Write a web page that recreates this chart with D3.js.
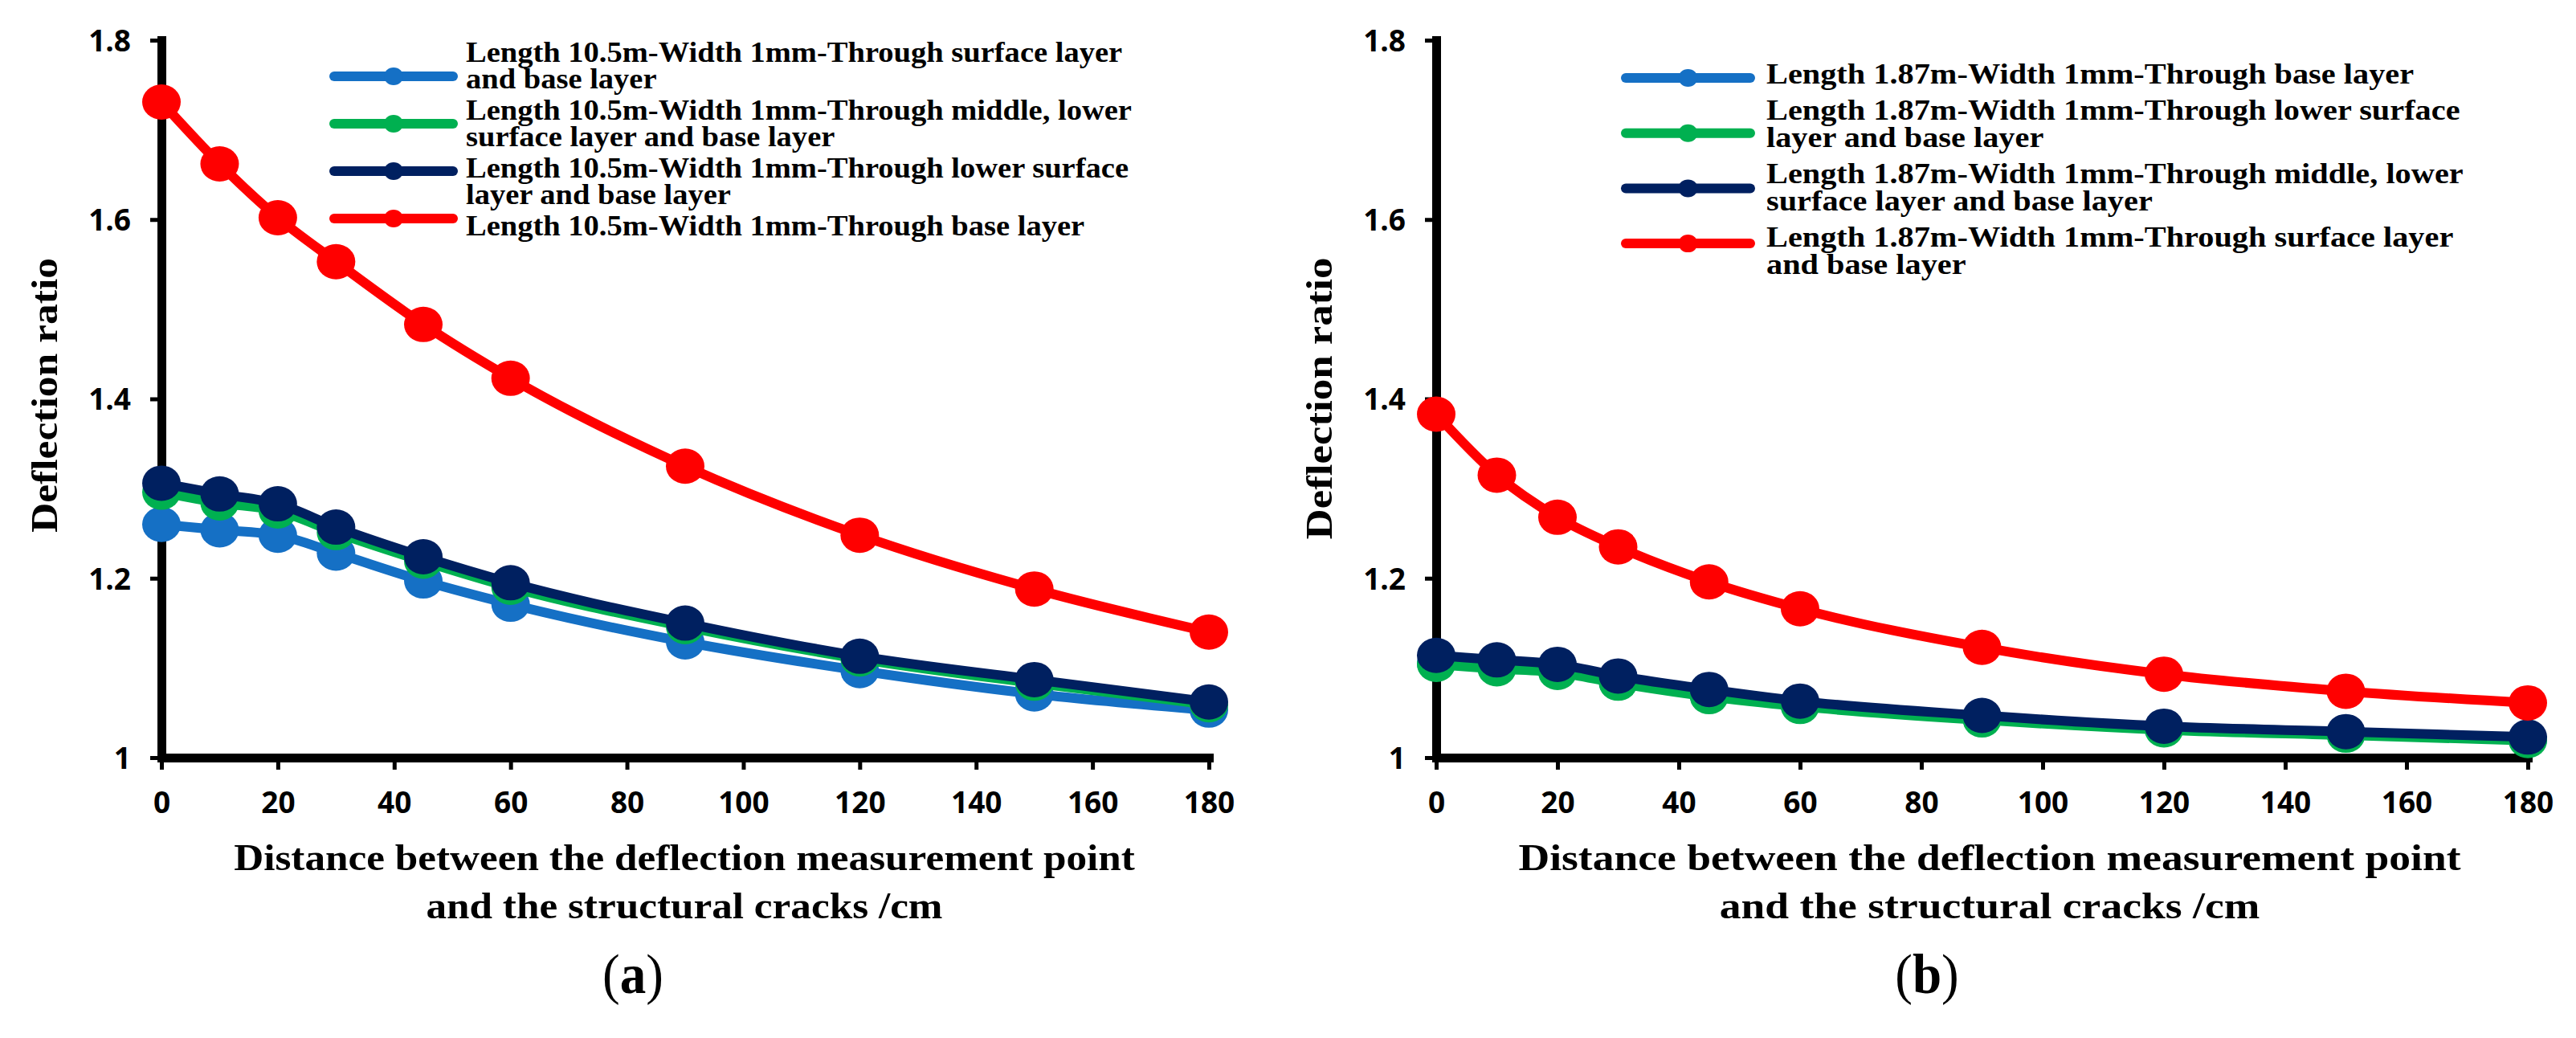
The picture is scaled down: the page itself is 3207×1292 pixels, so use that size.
<!DOCTYPE html>
<html>
<head>
<meta charset="utf-8">
<script src="https://cdn.jsdelivr.net/npm/d3@7"></script>
<style>
  body { margin: 0; background: #fff; }
  svg { display: block; }
</style>
</head>
<body>
<svg id="chart" width="3207" height="1292"></svg>
<script>
// distances from the crack (cm) and axis ticks
var xValues = [0, 10, 20, 30, 45, 60, 90, 120, 150, 180];
var xTicks = [0, 20, 40, 60, 80, 100, 120, 140, 160, 180];
var yTicks = [1, 1.2, 1.4, 1.6, 1.8];
var seriesColors = ['#1570C5', '#00B050', '#002060', '#FF0000'];

// (a) length 10.5 m
var aSurfaceBase = [1.260, 1.254, 1.248, 1.228, 1.197, 1.171, 1.129, 1.097, 1.071, 1.053];
var aMiddleLower = [1.296, 1.284, 1.275, 1.251, 1.219, 1.190, 1.146, 1.110, 1.083, 1.059];
var aLowerBase = [1.306, 1.294, 1.283, 1.257, 1.224, 1.195, 1.150, 1.113, 1.087, 1.062];
var aBaseOnly = [1.731, 1.662, 1.602, 1.553, 1.483, 1.423, 1.325, 1.248, 1.188, 1.140];
var aLegend = [
  ['Length 10.5m-Width 1mm-Through surface layer', 'and base layer'],
  ['Length 10.5m-Width 1mm-Through middle, lower', 'surface layer and base layer'],
  ['Length 10.5m-Width 1mm-Through lower surface', 'layer and base layer'],
  ['Length 10.5m-Width 1mm-Through base layer']
];

// (b) length 1.87 m
var bBaseOnly = [1.105, 1.100, 1.096, 1.084, 1.069, 1.058, 1.043, 1.032, 1.026, 1.020];
var bLowerBase = [1.104, 1.099, 1.095, 1.083, 1.068, 1.057, 1.042, 1.031, 1.025, 1.019];
var bMiddleLower = [1.114, 1.109, 1.104, 1.091, 1.076, 1.063, 1.047, 1.035, 1.029, 1.023];
var bSurfaceBase = [1.383, 1.315, 1.268, 1.235, 1.196, 1.166, 1.123, 1.093, 1.074, 1.061];
var bLegend = [
  ['Length 1.87m-Width 1mm-Through base layer'],
  ['Length 1.87m-Width 1mm-Through lower surface', 'layer and base layer'],
  ['Length 1.87m-Width 1mm-Through middle, lower', 'surface layer and base layer'],
  ['Length 1.87m-Width 1mm-Through surface layer', 'and base layer']
];

var yTitle = 'Deflection ratio';
var xTitle = ['Distance between the deflection measurement point', 'and the structural cracks /cm'];

var serif = '"Liberation Serif", "Times New Roman", serif',
    sans = '"Open Sans", "Liberation Sans", sans-serif';

// layout of the two panels
var panels = [
  {label: 'a', values: [aSurfaceBase, aMiddleLower, aLowerBase, aBaseOnly], legend: aLegend,
   x0: 201, x1: 1505, k: 1.07, titleK: 1.09, titleCX: 852,
   keyX: [416, 564], keyY0: 95, keyStep: 59, textX: 580, textY0: 65, lh: 33, gap: 39,
   yTitleX: 55, yTitleY: 492, yTitleLen: 342, labelX: 788},
  {label: 'b', values: [bBaseOnly, bLowerBase, bMiddleLower, bSurfaceBase], legend: bLegend,
   x0: 1788, x1: 3147, k: 1.12, titleK: 1.14, titleCX: 2477,
   keyX: [2024, 2179], keyY0: 97, keyStep: 68.7, textX: 2199, textY0: 92, lh: 34, gap: 45,
   yTitleX: 1642, yTitleY: 496, yTitleLen: 351, labelX: 2399}
];

var svg = d3.select('#chart');
svg.append('rect').attr('width', 3207).attr('height', 1292).attr('fill', '#fff');

// stretch text horizontally by factor k
function stretch(sel, k) {
  sel.each(function() {
    var w = this.getComputedTextLength();
    d3.select(this).attr('textLength', w * k).attr('lengthAdjust', 'spacingAndGlyphs');
  });
}

panels.forEach(function(p) {
  var g = svg.append('g').classed('panel', true);
  var x = d3.scaleLinear().domain([0, 180]).range([p.x0, p.x1]),
      y = d3.scaleLinear().domain([1, 1.8]).range([943, 50]);

  // axes
  var xAxis = g.append('g')
    .attr('transform', 'translate(0,' + y(1) + ')')
    .call(d3.axisBottom(x).tickValues(xTicks).tickSize(15).tickSizeOuter(0));
  var yAxis = g.append('g')
    .attr('transform', 'translate(' + x(0) + ',0)')
    .call(d3.axisLeft(y).tickValues(yTicks).tickSize(14).tickSizeOuter(0).tickFormat(function(d) { return String(d); }));

  [xAxis, yAxis].forEach(function(ax) {
    ax.select('.domain').attr('stroke', '#000').attr('stroke-width', 11).attr('stroke-linecap', 'square');
    ax.selectAll('.tick line').attr('stroke', '#000').attr('stroke-width', 5);
    ax.selectAll('.tick text')
      .attr('fill', '#000')
      .style('font-family', sans)
      .style('font-weight', 700)
      .style('font-size', '37px');
  });
  xAxis.selectAll('.tick text').attr('y', 56).attr('dy', '0.36em');
  yAxis.selectAll('.tick text').attr('x', -38).attr('dy', '0.36em');

  // series: line then markers, in legend order
  var line = d3.line()
    .x(function(d, i) { return x(xValues[i]); })
    .y(function(d) { return y(d); })
    .curve(d3.curveMonotoneX);

  p.values.forEach(function(vals, s) {
    var sg = g.append('g').classed('series', true);
    sg.append('path')
      .attr('d', line(vals))
      .attr('fill', 'none')
      .attr('stroke', seriesColors[s])
      .attr('stroke-width', 12)
      .attr('stroke-linejoin', 'round');
    sg.selectAll('ellipse').data(vals).enter().append('ellipse')
      .attr('cx', function(d, i) { return x(xValues[i]); })
      .attr('cy', function(d) { return y(d); })
      .attr('rx', 24)
      .attr('ry', 22)
      .attr('fill', seriesColors[s]);
  });

  // legend
  var lg = g.append('g').classed('legend', true),
      ty = p.textY0;
  p.legend.forEach(function(lines, s) {
    var ky = p.keyY0 + s * p.keyStep;
    lg.append('line')
      .attr('x1', p.keyX[0]).attr('x2', p.keyX[1])
      .attr('y1', ky).attr('y2', ky)
      .attr('stroke', seriesColors[s]).attr('stroke-width', 12)
      .attr('stroke-linecap', 'round');
    lg.append('ellipse')
      .attr('cx', (p.keyX[0] + p.keyX[1]) / 2).attr('cy', ky)
      .attr('rx', 12).attr('ry', 11)
      .attr('fill', seriesColors[s]);
    lines.forEach(function(t, j) {
      if (j > 0) ty += p.lh;
      lg.append('text')
        .attr('x', p.textX).attr('y', ty).attr('dy', '0.34em')
        .style('font-family', serif).style('font-weight', 700).style('font-size', '36px')
        .text(t)
        .call(stretch, p.k);
    });
    ty += p.gap;
  });

  // axis titles
  g.append('text')
    .attr('transform', 'translate(' + p.yTitleX + ',' + p.yTitleY + ') rotate(-90)')
    .attr('text-anchor', 'middle').attr('dy', '0.34em')
    .style('font-family', serif).style('font-weight', 700).style('font-size', '46px')
    .attr('textLength', p.yTitleLen).attr('lengthAdjust', 'spacingAndGlyphs')
    .text(yTitle);

  xTitle.forEach(function(t, j) {
    g.append('text')
      .attr('x', p.titleCX).attr('y', 1067 + j * 60).attr('dy', '0.33em')
      .attr('text-anchor', 'middle')
      .style('font-family', serif).style('font-weight', 700).style('font-size', '47px')
      .text(t)
      .call(stretch, p.titleK);
  });

  // panel label
  var pl = g.append('text')
    .attr('x', p.labelX).attr('y', 1236)
    .attr('text-anchor', 'middle')
    .style('font-family', serif).style('font-size', '70px');
  pl.append('tspan').text('(');
  pl.append('tspan').style('font-weight', 700).text(p.label);
  pl.append('tspan').text(')');
  pl.call(stretch, 0.93);
});
</script>
</body>
</html>
